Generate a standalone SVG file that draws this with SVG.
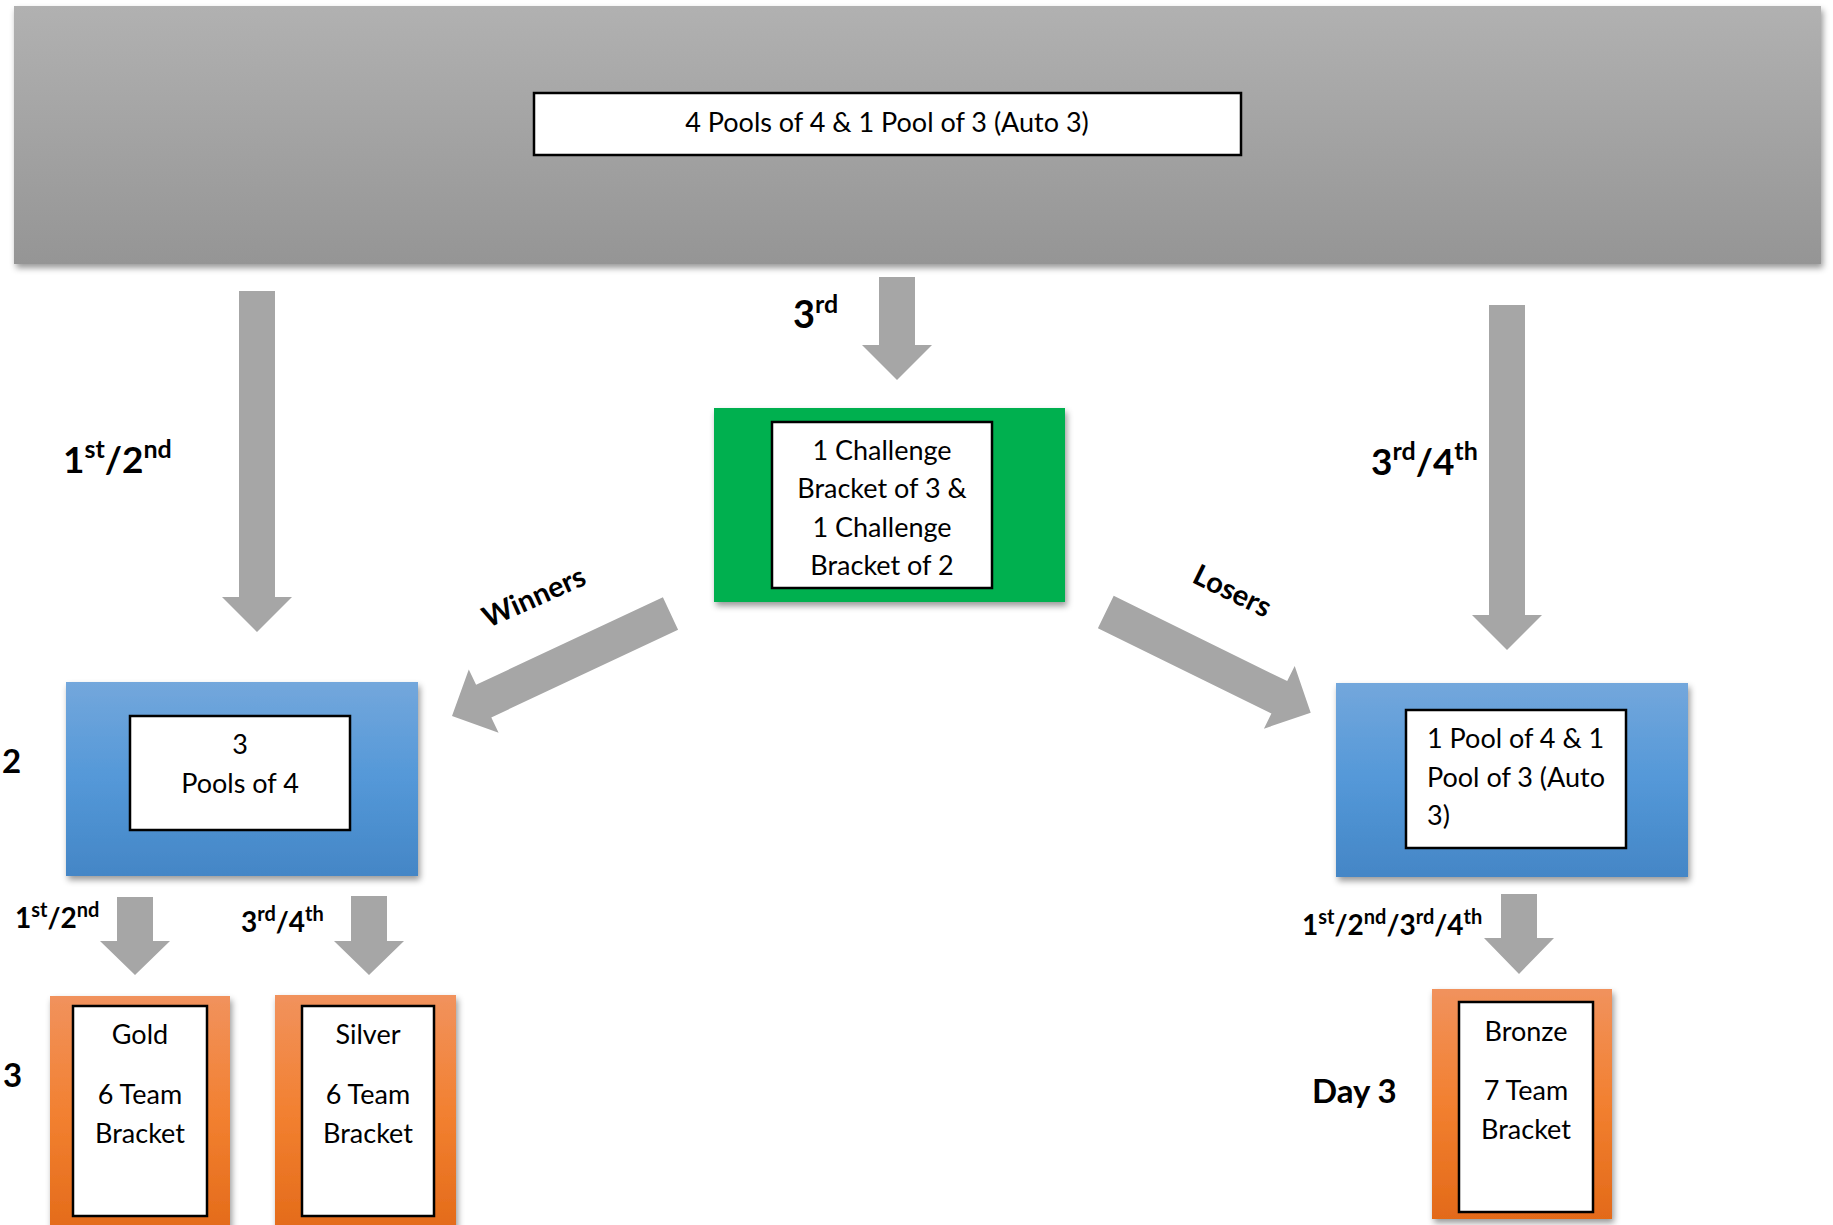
<svg xmlns="http://www.w3.org/2000/svg" width="1833" height="1225" viewBox="0 0 1833 1225">
<defs>
<linearGradient id="gGrey" x1="0" y1="0" x2="0" y2="1"><stop offset="0" stop-color="#b1b1b1"/><stop offset="1" stop-color="#959595"/></linearGradient>
<linearGradient id="gBlue" x1="0" y1="0" x2="0" y2="1"><stop offset="0" stop-color="#73a7dc"/><stop offset="0.5" stop-color="#5498d8"/><stop offset="1" stop-color="#4486c6"/></linearGradient>
<linearGradient id="gOrange" x1="0" y1="0" x2="0" y2="1"><stop offset="0" stop-color="#f1925d"/><stop offset="0.5" stop-color="#f28030"/><stop offset="1" stop-color="#e36a19"/></linearGradient>
<filter id="sh" x="-10%" y="-10%" width="120%" height="130%"><feDropShadow dx="2" dy="4" stdDeviation="3" flood-color="#000" flood-opacity="0.4"/></filter>
</defs>
<style>
.inner{fill:#fff;stroke:#000;stroke-width:2.5}
.body{font-family:Lato,'Open Sans','Noto Sans',sans-serif;font-size:27px;fill:#000}
.c{text-anchor:middle}
.lbl{font-family:Lato,'Open Sans','Noto Sans',sans-serif;font-weight:bold;fill:#000}
.arrow{fill:#a6a6a6}
</style>

<g id="node-top">
<rect x="14" y="6" width="1807" height="258" fill="url(#gGrey)" filter="url(#sh)"/>
<rect class="inner" x="534" y="93" width="707" height="62"/>
<text class="body c" x="887" y="132">4 Pools of 4 &amp; 1 Pool of 3 (Auto 3)</text>
</g>

<g id="node-challenge">
<rect x="714" y="408" width="351" height="194" fill="#00b050" filter="url(#sh)"/>
<rect class="inner" x="772" y="422" width="220" height="166"/>
<text class="body c" x="882" y="460">1 Challenge</text>
<text class="body c" x="882" y="498">Bracket of 3 &amp;</text>
<text class="body c" x="882" y="537">1 Challenge</text>
<text class="body c" x="882" y="575">Bracket of 2</text>
</g>

<g id="node-pools-left">
<rect x="66" y="682" width="352" height="194" fill="url(#gBlue)" filter="url(#sh)"/>
<rect class="inner" x="130" y="716" width="220" height="114"/>
<text class="body c" x="240" y="754">3</text>
<text class="body c" x="240" y="793">Pools of 4</text>
</g>

<g id="node-pools-right">
<rect x="1336" y="683" width="352" height="194" fill="url(#gBlue)" filter="url(#sh)"/>
<rect class="inner" x="1406" y="710" width="220" height="138"/>
<text class="body" x="1427" y="748">1 Pool of 4 &amp; 1</text>
<text class="body" x="1427" y="787">Pool of 3 (Auto</text>
<text class="body" x="1427" y="825">3)</text>
</g>

<g id="node-gold">
<rect x="50" y="996" width="180" height="240" fill="url(#gOrange)" filter="url(#sh)"/>
<rect class="inner" x="73" y="1006" width="134" height="210"/>
<text class="body c" x="140" y="1044">Gold</text>
<text class="body c" x="140" y="1104">6 Team</text>
<text class="body c" x="140" y="1143">Bracket</text>
</g>

<g id="node-silver">
<rect x="275" y="995" width="181" height="240" fill="url(#gOrange)" filter="url(#sh)"/>
<rect class="inner" x="302" y="1006" width="132" height="210"/>
<text class="body c" x="368" y="1044">Silver</text>
<text class="body c" x="368" y="1104">6 Team</text>
<text class="body c" x="368" y="1143">Bracket</text>
</g>

<g id="node-bronze">
<rect x="1432" y="989" width="180" height="230" fill="url(#gOrange)" filter="url(#sh)"/>
<rect class="inner" x="1459" y="1002" width="134" height="210"/>
<text class="body c" x="1526" y="1041">Bronze</text>
<text class="body c" x="1526" y="1100">7 Team</text>
<text class="body c" x="1526" y="1139">Bracket</text>
</g>

<g id="connectors">
<polygon class="arrow" points="239,291 275,291 275,597 292,597 257,632 222,597 239,597"/>
<polygon class="arrow" points="879,277 915,277 915,345 932,345 897,380 862,345 879,345"/>
<polygon class="arrow" points="1489,305 1525,305 1525,615 1542,615 1507,650 1472,615 1489,615"/>
<polygon class="arrow" points="662.9,597.2 678.1,629.8 491.3,717.4 498.6,732.8 452,716 468.8,669.4 476.1,684.8"/>
<polygon class="arrow" points="1113.7,595.8 1287.2,681.1 1294.7,665.9 1310.7,712.7 1263.9,728.7 1271.4,713.5 1097.9,628.2"/>
<polygon class="arrow" points="117,897 153,897 153,941 170,941 135,975 100,941 117,941"/>
<polygon class="arrow" points="351,896 387,896 387,941 404,941 369,975 334,941 351,941"/>
<polygon class="arrow" points="1501,894 1537,894 1537,938 1554,938 1519,974 1484,938 1501,938"/>
</g>

<g id="labels">
<text class="lbl" x="63" y="473" font-size="37">1<tspan font-size="25" dy="-15">st</tspan><tspan dy="15">/2</tspan><tspan font-size="25" dy="-15">nd</tspan></text>
<text class="lbl" x="793" y="328" font-size="38">3<tspan font-size="25" dy="-15">rd</tspan></text>
<text class="lbl" x="1371" y="475" font-size="37">3<tspan font-size="25" dy="-15">rd</tspan><tspan dy="15">/4</tspan><tspan font-size="25" dy="-15">th</tspan></text>
<text class="lbl" font-size="29" text-anchor="middle" transform="translate(538,606) rotate(-24)">Winners</text>
<text class="lbl" font-size="29" text-anchor="middle" transform="translate(1228,600) rotate(26)">Losers</text>
<text class="lbl" x="15" y="928" font-size="28">1<tspan font-size="20" dy="-11">st</tspan><tspan dy="11">/2</tspan><tspan font-size="20" dy="-11">nd</tspan></text>
<text class="lbl" x="241" y="932" font-size="28">3<tspan font-size="20" dy="-11">rd</tspan><tspan dy="11">/4</tspan><tspan font-size="20" dy="-11">th</tspan></text>
<text class="lbl" x="1302" y="935" font-size="28">1<tspan font-size="20" dy="-11">st</tspan><tspan dy="11">/2</tspan><tspan font-size="20" dy="-11">nd</tspan><tspan dy="11">/3</tspan><tspan font-size="20" dy="-11">rd</tspan><tspan dy="11">/4</tspan><tspan font-size="20" dy="-11">th</tspan></text>
<text class="lbl" x="1312" y="1103" font-size="33">Day 3</text>
<text class="lbl" x="2" y="773" font-size="33">2</text>
<text class="lbl" x="3" y="1087" font-size="33">3</text>
</g>
</svg>
